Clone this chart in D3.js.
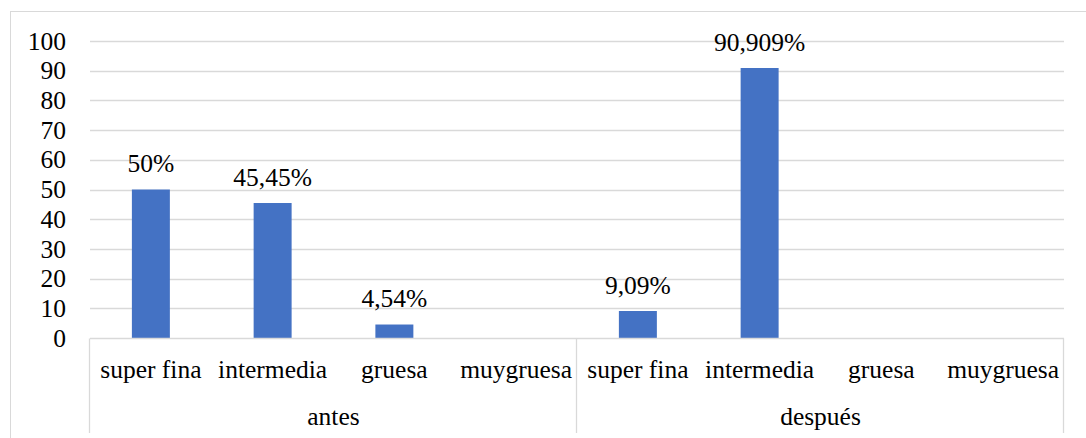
<!DOCTYPE html>
<html>
<head>
<meta charset="utf-8">
<script src="https://cdn.jsdelivr.net/npm/d3@7"></script>
<style>
  html, body { margin: 0; padding: 0; background: #fff; }
  svg { display: block; }
</style>
</head>
<body>
<script>
// Groups (outer category level) and the categories inside each group
const groups = ["antes", "después"];
const categories = ["super fina", "intermedia", "gruesa", "muygruesa"];

// Percentages per group, in category order
const antesValues = [50, 45.45, 4.54, 0];
const despuesValues = [9.09, 90.909, 0, 0];

// Value axis ticks
const yTicks = [0, 10, 20, 30, 40, 50, 60, 70, 80, 90, 100];

const W = 1086, H = 438;
const plot = { left: 90, right: 1064, top: 41, bottom: 338 };
const gridColor = "#d9d9d9";
const barColor = "#4472C4";
const fontSize = 25.5;
const serif = '"Liberation Serif", "Times New Roman", Tinos, "Noto Serif", "Nimbus Roman", FreeSerif, "Noto Serif CJK SC", "DejaVu Serif", serif';

const rows = [
  { group: groups[0], values: antesValues },
  { group: groups[1], values: despuesValues }
];
const data = rows.flatMap(r => r.values.map((v, i) => ({ group: r.group, category: categories[i], value: v })));

const svg = d3.select("body").append("svg").attr("width", W).attr("height", H)
  .attr("font-family", serif).attr("font-size", fontSize);

// Chart frame
svg.append("rect")
  .attr("x", 10.5).attr("y", 11.5)
  .attr("width", W + 20).attr("height", H + 20)
  .attr("fill", "none").attr("stroke", gridColor).attr("stroke-width", 1);

const y = d3.scaleLinear().domain([0, 100]).range([plot.bottom, plot.top]);
const x0 = d3.scaleBand().domain(groups).range([plot.left, plot.right]).padding(0);
const gap = 0.688;
const x1 = d3.scaleBand().domain(categories).range([0, x0.bandwidth()])
  .paddingInner(gap).paddingOuter(gap / 2);

// Horizontal gridlines
svg.append("g").selectAll("line").data(yTicks.filter(t => t > 0)).join("line")
  .attr("x1", plot.left).attr("x2", plot.right)
  .attr("y1", d => Math.round(y(d)) + 0.5).attr("y2", d => Math.round(y(d)) + 0.5)
  .attr("stroke", gridColor).attr("stroke-width", 1.3);

// Value axis labels
const yAxis = d3.axisLeft(y).tickValues(yTicks).tickSize(0).tickPadding(24);
const yg = svg.append("g").attr("transform", `translate(${plot.left},0)`).call(yAxis);
yg.attr("font-family", serif).attr("font-size", fontSize);
yg.select(".domain").remove();
yg.selectAll("text").attr("fill", "#000");

// Bars
svg.append("g").selectAll("rect").data(data).join("rect")
  .attr("x", d => x0(d.group) + x1(d.category))
  .attr("width", x1.bandwidth())
  .attr("y", d => y(d.value))
  .attr("height", d => y(0) - y(d.value))
  .attr("fill", barColor);

// Value labels above non-zero bars
const fmt = v => String(v).replace(".", ",") + "%";
svg.append("g").selectAll("text").data(data.filter(d => d.value > 0)).join("text")
  .attr("x", d => x0(d.group) + x1(d.category) + x1.bandwidth() / 2)
  .attr("y", d => y(d.value) - 17.5)
  .attr("text-anchor", "middle")
  .attr("fill", "#000")
  .text(d => fmt(d.value));

// Category axis line and group separators
const axisY = Math.round(y(0)) + 0.5;
svg.append("line")
  .attr("x1", plot.left).attr("x2", plot.right)
  .attr("y1", axisY).attr("y2", axisY)
  .attr("stroke", gridColor).attr("stroke-width", 1.3);

const seps = [plot.left, ...groups.map(g => x0(g) + x0.bandwidth())];
svg.append("g").selectAll("line").data(seps).join("line")
  .attr("x1", d => Math.round(d) - 0.5).attr("x2", d => Math.round(d) - 0.5)
  .attr("y1", axisY).attr("y2", 433)
  .attr("stroke", gridColor).attr("stroke-width", 1.3);

// Category labels
svg.append("g").selectAll("text").data(data).join("text")
  .attr("x", d => x0(d.group) + x1(d.category) + x1.bandwidth() / 2)
  .attr("y", 378)
  .attr("text-anchor", "middle")
  .attr("fill", "#000")
  .text(d => d.category);

// Group labels
svg.append("g").selectAll("text").data(groups).join("text")
  .attr("x", d => x0(d) + x0.bandwidth() / 2)
  .attr("y", 425)
  .attr("text-anchor", "middle")
  .attr("fill", "#000")
  .text(d => d);
</script>
</body>
</html>
